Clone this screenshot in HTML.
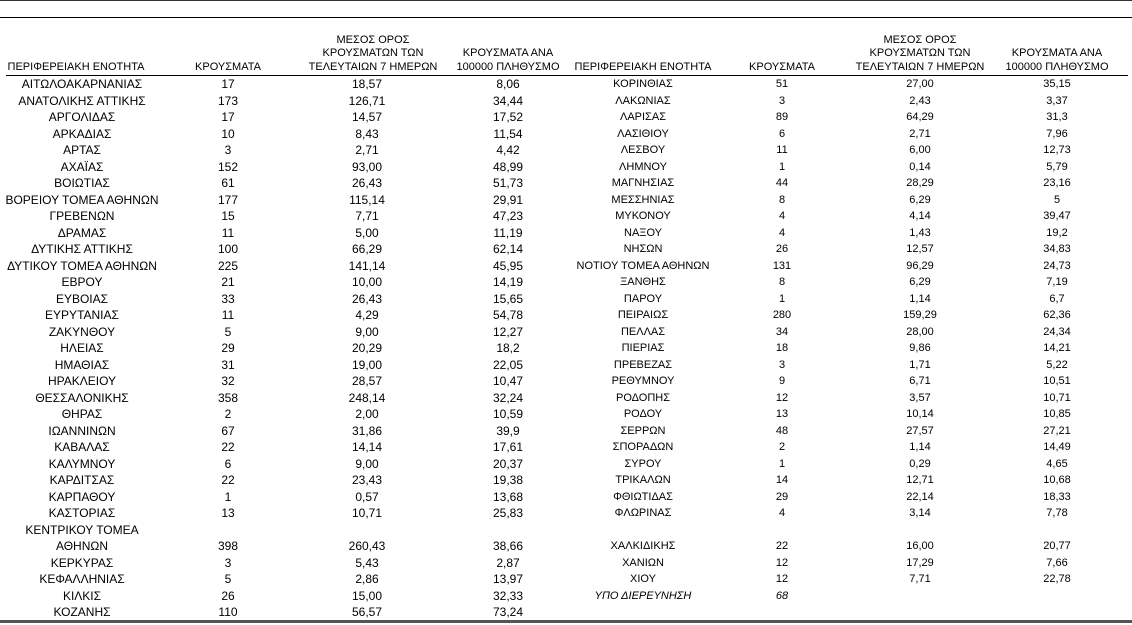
<!DOCTYPE html><html><head><meta charset="utf-8"><style>
body{margin:0;width:1132px;height:625px;background:#fff;position:relative;overflow:hidden;font-family:"Liberation Sans Narrow","Liberation Sans",sans-serif;color:#000}
.ln{position:absolute;left:0;width:1132px;background:#333}
.side{position:absolute;top:76px}
.r{display:flex;height:16.5px;line-height:16.5px;font-size:11.5px;white-space:nowrap}
.r div{text-align:center;overflow:visible}
.L .c1{width:164px}.L .c2{width:128px}.L .c3{width:150px}.L .c4{width:132px}
.L .r{font-size:12px}
.R .c1{width:138px}.R .c2{width:140px}.R .c3{width:136px}.R .c4{width:138px}
.R .r{font-size:11px}
.hd{position:absolute;top:17px;height:58px;display:flex;align-items:flex-end;font-size:11px;line-height:13.5px}
.hd div{text-align:center;padding-bottom:1px}
i{font-style:italic}
</style></head><body>
<div class="ln" style="top:0;height:1px"></div>
<div class="ln" style="top:17px;height:1px;background:#000"></div>
<div class="ln" style="top:75px;height:1px;left:6px;width:1122px;background:#000"></div>
<div class="ln" style="top:620px;height:3px;background:#555"></div>

<div class="hd L" style="left:0"><div class="c1" style="width:152px">ΠΕΡΙΦΕΡΕΙΑΚΗ ΕΝΟΤΗΤΑ</div><div style="width:152px">ΚΡΟΥΣΜΑΤΑ</div><div style="width:138px">ΜΕΣΟΣ ΟΡΟΣ<br>ΚΡΟΥΣΜΑΤΩΝ ΤΩΝ<br>ΤΕΛΕΥΤΑΙΩΝ 7 ΗΜΕΡΩΝ</div><div style="width:132px">ΚΡΟΥΣΜΑΤΑ ΑΝΑ<br>100000 ΠΛΗΘΥΣΜΟ</div></div>
<div class="hd R" style="left:574px"><div style="width:138px">ΠΕΡΙΦΕΡΕΙΑΚΗ ΕΝΟΤΗΤΑ</div><div style="width:140px">ΚΡΟΥΣΜΑΤΑ</div><div style="width:136px">ΜΕΣΟΣ ΟΡΟΣ<br>ΚΡΟΥΣΜΑΤΩΝ ΤΩΝ<br>ΤΕΛΕΥΤΑΙΩΝ 7 ΗΜΕΡΩΝ</div><div style="width:138px">ΚΡΟΥΣΜΑΤΑ ΑΝΑ<br>100000 ΠΛΗΘΥΣΜΟ</div></div>

<div class="side L" style="left:0">
<div class="r"><div class="c1">ΑΙΤΩΛΟΑΚΑΡΝΑΝΙΑΣ</div><div class="c2">17</div><div class="c3">18,57</div><div class="c4">8,06</div></div>
<div class="r"><div class="c1">ΑΝΑΤΟΛΙΚΗΣ ΑΤΤΙΚΗΣ</div><div class="c2">173</div><div class="c3">126,71</div><div class="c4">34,44</div></div>
<div class="r"><div class="c1">ΑΡΓΟΛΙΔΑΣ</div><div class="c2">17</div><div class="c3">14,57</div><div class="c4">17,52</div></div>
<div class="r"><div class="c1">ΑΡΚΑΔΙΑΣ</div><div class="c2">10</div><div class="c3">8,43</div><div class="c4">11,54</div></div>
<div class="r"><div class="c1">ΑΡΤΑΣ</div><div class="c2">3</div><div class="c3">2,71</div><div class="c4">4,42</div></div>
<div class="r"><div class="c1">ΑΧΑΪΑΣ</div><div class="c2">152</div><div class="c3">93,00</div><div class="c4">48,99</div></div>
<div class="r"><div class="c1">ΒΟΙΩΤΙΑΣ</div><div class="c2">61</div><div class="c3">26,43</div><div class="c4">51,73</div></div>
<div class="r"><div class="c1">ΒΟΡΕΙΟΥ ΤΟΜΕΑ ΑΘΗΝΩΝ</div><div class="c2">177</div><div class="c3">115,14</div><div class="c4">29,91</div></div>
<div class="r"><div class="c1">ΓΡΕΒΕΝΩΝ</div><div class="c2">15</div><div class="c3">7,71</div><div class="c4">47,23</div></div>
<div class="r"><div class="c1">ΔΡΑΜΑΣ</div><div class="c2">11</div><div class="c3">5,00</div><div class="c4">11,19</div></div>
<div class="r"><div class="c1">ΔΥΤΙΚΗΣ ΑΤΤΙΚΗΣ</div><div class="c2">100</div><div class="c3">66,29</div><div class="c4">62,14</div></div>
<div class="r"><div class="c1">ΔΥΤΙΚΟΥ ΤΟΜΕΑ ΑΘΗΝΩΝ</div><div class="c2">225</div><div class="c3">141,14</div><div class="c4">45,95</div></div>
<div class="r"><div class="c1">ΕΒΡΟΥ</div><div class="c2">21</div><div class="c3">10,00</div><div class="c4">14,19</div></div>
<div class="r"><div class="c1">ΕΥΒΟΙΑΣ</div><div class="c2">33</div><div class="c3">26,43</div><div class="c4">15,65</div></div>
<div class="r"><div class="c1">ΕΥΡΥΤΑΝΙΑΣ</div><div class="c2">11</div><div class="c3">4,29</div><div class="c4">54,78</div></div>
<div class="r"><div class="c1">ΖΑΚΥΝΘΟΥ</div><div class="c2">5</div><div class="c3">9,00</div><div class="c4">12,27</div></div>
<div class="r"><div class="c1">ΗΛΕΙΑΣ</div><div class="c2">29</div><div class="c3">20,29</div><div class="c4">18,2</div></div>
<div class="r"><div class="c1">ΗΜΑΘΙΑΣ</div><div class="c2">31</div><div class="c3">19,00</div><div class="c4">22,05</div></div>
<div class="r"><div class="c1">ΗΡΑΚΛΕΙΟΥ</div><div class="c2">32</div><div class="c3">28,57</div><div class="c4">10,47</div></div>
<div class="r"><div class="c1">ΘΕΣΣΑΛΟΝΙΚΗΣ</div><div class="c2">358</div><div class="c3">248,14</div><div class="c4">32,24</div></div>
<div class="r"><div class="c1">ΘΗΡΑΣ</div><div class="c2">2</div><div class="c3">2,00</div><div class="c4">10,59</div></div>
<div class="r"><div class="c1">ΙΩΑΝΝΙΝΩΝ</div><div class="c2">67</div><div class="c3">31,86</div><div class="c4">39,9</div></div>
<div class="r"><div class="c1">ΚΑΒΑΛΑΣ</div><div class="c2">22</div><div class="c3">14,14</div><div class="c4">17,61</div></div>
<div class="r"><div class="c1">ΚΑΛΥΜΝΟΥ</div><div class="c2">6</div><div class="c3">9,00</div><div class="c4">20,37</div></div>
<div class="r"><div class="c1">ΚΑΡΔΙΤΣΑΣ</div><div class="c2">22</div><div class="c3">23,43</div><div class="c4">19,38</div></div>
<div class="r"><div class="c1">ΚΑΡΠΑΘΟΥ</div><div class="c2">1</div><div class="c3">0,57</div><div class="c4">13,68</div></div>
<div class="r"><div class="c1">ΚΑΣΤΟΡΙΑΣ</div><div class="c2">13</div><div class="c3">10,71</div><div class="c4">25,83</div></div>
<div class="r"><div class="c1">ΚΕΝΤΡΙΚΟΥ ΤΟΜΕΑ</div><div class="c2"></div><div class="c3"></div><div class="c4"></div></div>
<div class="r"><div class="c1">ΑΘΗΝΩΝ</div><div class="c2">398</div><div class="c3">260,43</div><div class="c4">38,66</div></div>
<div class="r"><div class="c1">ΚΕΡΚΥΡΑΣ</div><div class="c2">3</div><div class="c3">5,43</div><div class="c4">2,87</div></div>
<div class="r"><div class="c1">ΚΕΦΑΛΛΗΝΙΑΣ</div><div class="c2">5</div><div class="c3">2,86</div><div class="c4">13,97</div></div>
<div class="r"><div class="c1">ΚΙΛΚΙΣ</div><div class="c2">26</div><div class="c3">15,00</div><div class="c4">32,33</div></div>
<div class="r"><div class="c1">ΚΟΖΑΝΗΣ</div><div class="c2">110</div><div class="c3">56,57</div><div class="c4">73,24</div></div>
</div>

<div class="side R" style="left:574px">
<div class="r"><div class="c1">ΚΟΡΙΝΘΙΑΣ</div><div class="c2">51</div><div class="c3">27,00</div><div class="c4">35,15</div></div>
<div class="r"><div class="c1">ΛΑΚΩΝΙΑΣ</div><div class="c2">3</div><div class="c3">2,43</div><div class="c4">3,37</div></div>
<div class="r"><div class="c1">ΛΑΡΙΣΑΣ</div><div class="c2">89</div><div class="c3">64,29</div><div class="c4">31,3</div></div>
<div class="r"><div class="c1">ΛΑΣΙΘΙΟΥ</div><div class="c2">6</div><div class="c3">2,71</div><div class="c4">7,96</div></div>
<div class="r"><div class="c1">ΛΕΣΒΟΥ</div><div class="c2">11</div><div class="c3">6,00</div><div class="c4">12,73</div></div>
<div class="r"><div class="c1">ΛΗΜΝΟΥ</div><div class="c2">1</div><div class="c3">0,14</div><div class="c4">5,79</div></div>
<div class="r"><div class="c1">ΜΑΓΝΗΣΙΑΣ</div><div class="c2">44</div><div class="c3">28,29</div><div class="c4">23,16</div></div>
<div class="r"><div class="c1">ΜΕΣΣΗΝΙΑΣ</div><div class="c2">8</div><div class="c3">6,29</div><div class="c4">5</div></div>
<div class="r"><div class="c1">ΜΥΚΟΝΟΥ</div><div class="c2">4</div><div class="c3">4,14</div><div class="c4">39,47</div></div>
<div class="r"><div class="c1">ΝΑΞΟΥ</div><div class="c2">4</div><div class="c3">1,43</div><div class="c4">19,2</div></div>
<div class="r"><div class="c1">ΝΗΣΩΝ</div><div class="c2">26</div><div class="c3">12,57</div><div class="c4">34,83</div></div>
<div class="r"><div class="c1">ΝΟΤΙΟΥ ΤΟΜΕΑ ΑΘΗΝΩΝ</div><div class="c2">131</div><div class="c3">96,29</div><div class="c4">24,73</div></div>
<div class="r"><div class="c1">ΞΑΝΘΗΣ</div><div class="c2">8</div><div class="c3">6,29</div><div class="c4">7,19</div></div>
<div class="r"><div class="c1">ΠΑΡΟΥ</div><div class="c2">1</div><div class="c3">1,14</div><div class="c4">6,7</div></div>
<div class="r"><div class="c1">ΠΕΙΡΑΙΩΣ</div><div class="c2">280</div><div class="c3">159,29</div><div class="c4">62,36</div></div>
<div class="r"><div class="c1">ΠΕΛΛΑΣ</div><div class="c2">34</div><div class="c3">28,00</div><div class="c4">24,34</div></div>
<div class="r"><div class="c1">ΠΙΕΡΙΑΣ</div><div class="c2">18</div><div class="c3">9,86</div><div class="c4">14,21</div></div>
<div class="r"><div class="c1">ΠΡΕΒΕΖΑΣ</div><div class="c2">3</div><div class="c3">1,71</div><div class="c4">5,22</div></div>
<div class="r"><div class="c1">ΡΕΘΥΜΝΟΥ</div><div class="c2">9</div><div class="c3">6,71</div><div class="c4">10,51</div></div>
<div class="r"><div class="c1">ΡΟΔΟΠΗΣ</div><div class="c2">12</div><div class="c3">3,57</div><div class="c4">10,71</div></div>
<div class="r"><div class="c1">ΡΟΔΟΥ</div><div class="c2">13</div><div class="c3">10,14</div><div class="c4">10,85</div></div>
<div class="r"><div class="c1">ΣΕΡΡΩΝ</div><div class="c2">48</div><div class="c3">27,57</div><div class="c4">27,21</div></div>
<div class="r"><div class="c1">ΣΠΟΡΑΔΩΝ</div><div class="c2">2</div><div class="c3">1,14</div><div class="c4">14,49</div></div>
<div class="r"><div class="c1">ΣΥΡΟΥ</div><div class="c2">1</div><div class="c3">0,29</div><div class="c4">4,65</div></div>
<div class="r"><div class="c1">ΤΡΙΚΑΛΩΝ</div><div class="c2">14</div><div class="c3">12,71</div><div class="c4">10,68</div></div>
<div class="r"><div class="c1">ΦΘΙΩΤΙΔΑΣ</div><div class="c2">29</div><div class="c3">22,14</div><div class="c4">18,33</div></div>
<div class="r"><div class="c1">ΦΛΩΡΙΝΑΣ</div><div class="c2">4</div><div class="c3">3,14</div><div class="c4">7,78</div></div>
<div class="r"><div class="c1"></div></div>
<div class="r"><div class="c1">ΧΑΛΚΙΔΙΚΗΣ</div><div class="c2">22</div><div class="c3">16,00</div><div class="c4">20,77</div></div>
<div class="r"><div class="c1">ΧΑΝΙΩΝ</div><div class="c2">12</div><div class="c3">17,29</div><div class="c4">7,66</div></div>
<div class="r"><div class="c1">ΧΙΟΥ</div><div class="c2">12</div><div class="c3">7,71</div><div class="c4">22,78</div></div>
<div class="r"><div class="c1"><i>ΥΠΟ ΔΙΕΡΕΥΝΗΣΗ</i></div><div class="c2"><i>68</i></div><div class="c3"></div><div class="c4"></div></div>
</div>
</body></html>
